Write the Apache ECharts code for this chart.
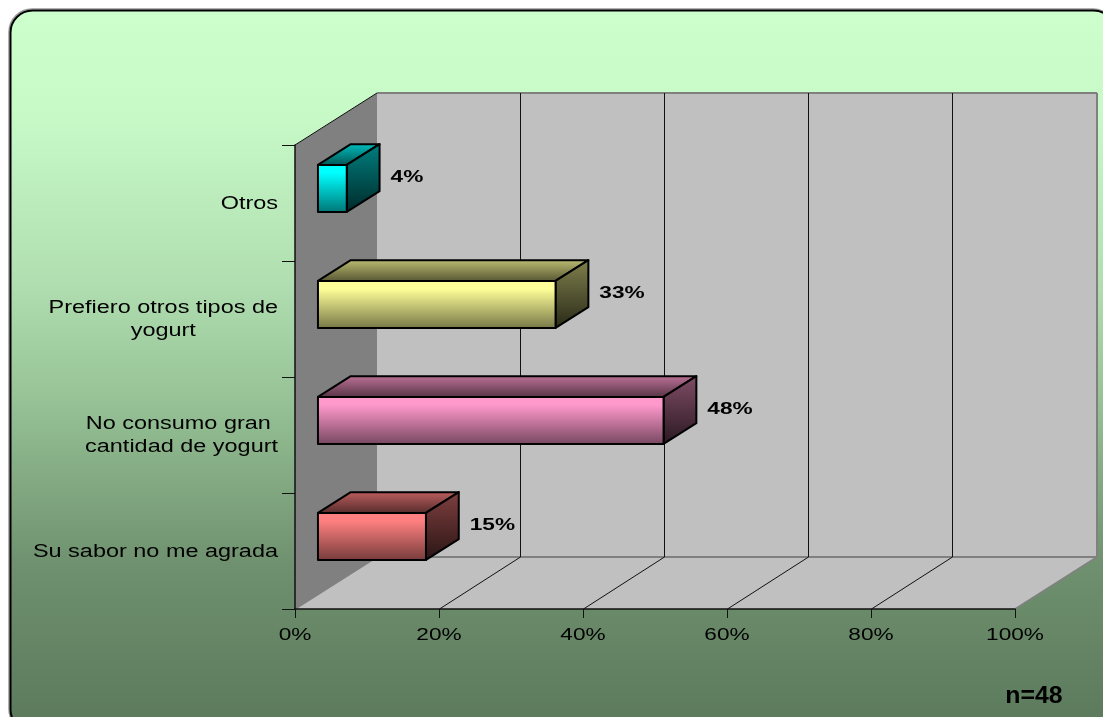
<!DOCTYPE html>
<html>
<head>
<meta charset="utf-8">
<title>Motivos para no consumir yogurt</title>
<script src="https://cdn.jsdelivr.net/npm/echarts@6/dist/echarts.min.js"></script>
<style>
  html, body { margin: 0; padding: 0; background: #fff; }
  #chart { width: 1103px; height: 717px; }
</style>
</head>
<body>
<div id="chart"></div>
<script>
// Survey answers, listed from the bottom of the chart upwards.
const categories = [
  'Su sabor no me agrada',
  'No consumo gran \ncantidad de yogurt',
  'Prefiero otros tipos de\nyogurt',
  'Otros'
];
const shares = [15, 48, 33, 4];
const barColors = ['#FF8080', '#FF99CC', '#FFFF99', '#00FFFF'];
const xTicks = [0, 20, 40, 60, 80, 100];
const sampleNote = 'n=48';

// Oblique projection of the plot box, in pixels.
const DEPTH_X = 82;
const DEPTH_Y = 52;
const BAR_FRONT = 0.28;   // fraction of the depth where a bar's front face sits
const BAR_BACK = 0.68;    // fraction of the depth where its back face sits
const BAR_BAND = 0.405;   // front-face height as a fraction of the category band

const FONT = '"Liberation Sans", Arial, sans-serif';
const TEXT_STRETCH = 1.33;
const CATEGORY_STRETCH = 1.34;
const CATEGORY_SIZE = 17.5;

const shade = (hex, k) => {
  const n = parseInt(hex.slice(1), 16);
  const c = [n >> 16, (n >> 8) & 255, n & 255].map(v => Math.round(v * k));
  return `rgb(${c[0]},${c[1]},${c[2]})`;
};
const vGrad = (top, bottom) => new echarts.graphic.LinearGradient(0, 0, 0, 1, [
  { offset: 0, color: top }, { offset: 1, color: bottom }
]);
const poly = (points, style, z2) => ({ type: 'polygon', z2: z2 || 0, shape: { points }, style });
const seg = (a, b, stroke, lineWidth, z2) => ({
  type: 'line', z2: z2 || 0,
  shape: { x1: a[0], y1: a[1], x2: b[0], y2: b[1] },
  style: { stroke, lineWidth }
});

const measure = document.createElement('canvas').getContext('2d');
const textWidth = (line, size) => {
  measure.font = `${size}px ${FONT}`;
  return measure.measureText(line).width;
};

// Side wall, back wall and floor, taken from the corners of the value axis.
function renderWalls(params, api) {
  const y0 = api.coord([0, 0])[1] + api.size([0, 1])[1] / 2;
  const y1 = api.coord([0, categories.length - 1])[1] - api.size([0, 1])[1] / 2;
  const x0 = api.coord([0, 0])[0];
  const x1 = api.coord([100, 0])[0];
  const back = p => [p[0] + DEPTH_X, p[1] - DEPTH_Y];
  const A = [x0, y0], B = [x1, y0], C = [x0, y1], D = [x1, y1];
  const edge = '#808080';
  return {
    type: 'group',
    children: [
      poly([back(C), back(D), back(B), back(A)], { fill: '#C0C0C0' }),
      poly([A, B, back(B), back(A)], { fill: '#C0C0C0' }),
      poly([A, C, back(C), back(A)], { fill: '#808080' }),
      seg(back(C), back(D), edge, 2, 1),
      seg(back(D), back(B), edge, 2, 1),
      seg(back(A), back(B), edge, 2, 1),
      seg(A, back(A), edge, 1.5, 1),
      seg(B, back(B), edge, 1.5, 1),
      seg(C, back(C), '#111', 1, 2)
    ]
  };
}

// Value gridlines run across the floor and up the back wall.
function renderGrid(params, api) {
  const v = api.value(0);
  const band = api.size([0, 1])[1];
  const a = api.coord([v, 0]);
  const foot = [a[0] + 0.5, a[1] + band / 2];
  const top = api.coord([v, categories.length - 1])[1] - band / 2;
  const b = [foot[0] + DEPTH_X - 1, foot[1] - DEPTH_Y];
  return {
    type: 'group',
    children: [
      seg(foot, b, '#111', 1),
      seg(b, [b[0], top - DEPTH_Y], '#111', 1)
    ]
  };
}

// One oblique box per answer, each face shaded from its base colour.
function renderBar(params, api) {
  const idx = api.value(0);
  const value = api.value(1);
  const color = barColors[idx];
  const band = api.size([0, 1])[1];
  const start = api.coord([0, idx]);
  const end = api.coord([value, idx]);
  const h = band * BAR_BAND;
  const fx = DEPTH_X * BAR_FRONT, fy = DEPTH_Y * BAR_FRONT;
  const dx = DEPTH_X * (BAR_BACK - BAR_FRONT), dy = DEPTH_Y * (BAR_BACK - BAR_FRONT);
  const left = start[0] + fx;
  const right = end[0] + fx;
  const bottom = start[1] + band / 2 - (band - h) / 2 - fy;
  const top = bottom - h;
  const line = { stroke: '#000', lineWidth: 2, lineJoin: 'round' };
  const frontFill = new echarts.graphic.LinearGradient(0, 0, 0, 1, [
    { offset: 0, color: color },
    { offset: 0.18, color: color },
    { offset: 1, color: shade(color, 0.46) }
  ]);
  return {
    type: 'group',
    children: [
      poly([[left, top], [left + dx, top - dy], [right + dx, top - dy], [right, top]],
        Object.assign({ fill: vGrad(shade(color, 0.75), shade(color, 0.33)) }, line)),
      poly([[right, top], [right + dx, top - dy], [right + dx, bottom - dy], [right, bottom]],
        Object.assign({ fill: vGrad(shade(color, 0.5), shade(color, 0.16)) }, line)),
      poly([[left, top], [right, top], [right, bottom], [left, bottom]],
        Object.assign({ fill: frontFill }, line)),
      {
        type: 'text',
        x: right + dx + 11,
        y: (top + bottom) / 2 - dy / 2 - 1,
        scaleX: TEXT_STRETCH,
        z2: 3,
        style: {
          text: value + '%', fontFamily: FONT, fontWeight: 'bold', fontSize: 17,
          fill: '#000', align: 'left', verticalAlign: 'middle'
        }
      }
    ]
  };
}

// Category names: a right-edged block whose lines are centred on each other.
function renderCategoryLabel(params, api) {
  const idx = api.value(0);
  const p = api.coord([0, idx]);
  const text = categories[idx];
  const widest = Math.max(...text.split('\n').map(l => textWidth(l, CATEGORY_SIZE))) * CATEGORY_STRETCH;
  return {
    type: 'text',
    x: p[0] - 17 - widest / 2,
    y: p[1] + 1,
    scaleX: CATEGORY_STRETCH,
    style: {
      text, fontFamily: FONT, fontSize: CATEGORY_SIZE, lineHeight: 23,
      fill: '#000', align: 'center', verticalAlign: 'middle'
    }
  };
}

function renderTickLabel(params, api) {
  const v = api.value(0);
  const band = api.size([0, 1])[1];
  const p = api.coord([v, 0]);
  return {
    type: 'text',
    x: p[0],
    y: p[1] + band / 2 + 26,
    scaleX: TEXT_STRETCH,
    style: {
      text: v + '%', fontFamily: FONT, fontSize: 17,
      fill: '#000', align: 'center', verticalAlign: 'middle'
    }
  };
}

const chart = echarts.init(document.getElementById('chart'), null, { renderer: 'canvas' });
chart.setOption({
  animation: false,
  tooltip: { show: false },
  graphic: {
    elements: [
      {
        type: 'rect', z: -12, silent: true,
        shape: { x: 9, y: 9, width: 1107, height: 723, r: 23 },
        style: { fill: 'none', stroke: '#999', lineWidth: 1.5 }
      },
      {
        type: 'rect', z: -10, silent: true,
        shape: { x: 10.5, y: 10.5, width: 1105, height: 721, r: 22 },
        style: {
          stroke: '#000', lineWidth: 2,
          fill: new echarts.graphic.LinearGradient(0, 0, 0, 1, [
            { offset: 0, color: '#CCFFCC' },
            { offset: 0.14, color: '#C8FAC8' },
            { offset: 0.38, color: '#B0DEB0' },
            { offset: 0.53, color: '#98C498' },
            { offset: 0.765, color: '#6F916F' },
            { offset: 1, color: '#5B785B' }
          ])
        }
      },
      {
        type: 'text', z: 10, silent: true,
        x: 1034, y: 697, scaleX: 1.08,
        style: {
          text: sampleNote, fontFamily: FONT, fontWeight: 'bold', fontSize: 23,
          fill: '#000', align: 'center', verticalAlign: 'middle'
        }
      }
    ]
  },
  grid: { left: 295, right: 88, top: 145, bottom: 108, containLabel: false },
  xAxis: {
    type: 'value', min: 0, max: 100, interval: 20, z: 5,
    axisLine: { show: true, lineStyle: { color: '#111', width: 1.5 } },
    axisTick: { show: true, length: 9, lineStyle: { color: '#111', width: 1 } },
    axisLabel: { show: false },
    splitLine: { show: false }
  },
  yAxis: {
    type: 'category', data: categories, z: 5,
    axisLine: { show: true, onZero: false, lineStyle: { color: '#111', width: 1.5 } },
    axisTick: { show: true, length: 13, alignWithLabel: false, lineStyle: { color: '#111', width: 1 } },
    axisLabel: { show: false },
    splitLine: { show: false }
  },
  series: [
    { type: 'custom', name: 'walls', z: 1, silent: true, renderItem: renderWalls, data: [[0]] },
    { type: 'custom', name: 'gridlines', z: 2, silent: true, renderItem: renderGrid,
      data: xTicks.slice(1, -1).map(v => [v]), encode: { x: 0 } },
    { type: 'custom', name: 'tick labels', z: 6, silent: true, renderItem: renderTickLabel,
      data: xTicks.map(v => [v]), encode: { x: 0 } },
    { type: 'custom', name: 'category labels', z: 6, silent: true, renderItem: renderCategoryLabel,
      data: categories.map((c, i) => [i]), encode: { y: 0 } },
    { type: 'custom', name: 'Porcentaje', z: 7, silent: true, renderItem: renderBar,
      data: shares.map((v, i) => [i, v]), encode: { x: 1, y: 0 } }
  ]
});
</script>
</body>
</html>
